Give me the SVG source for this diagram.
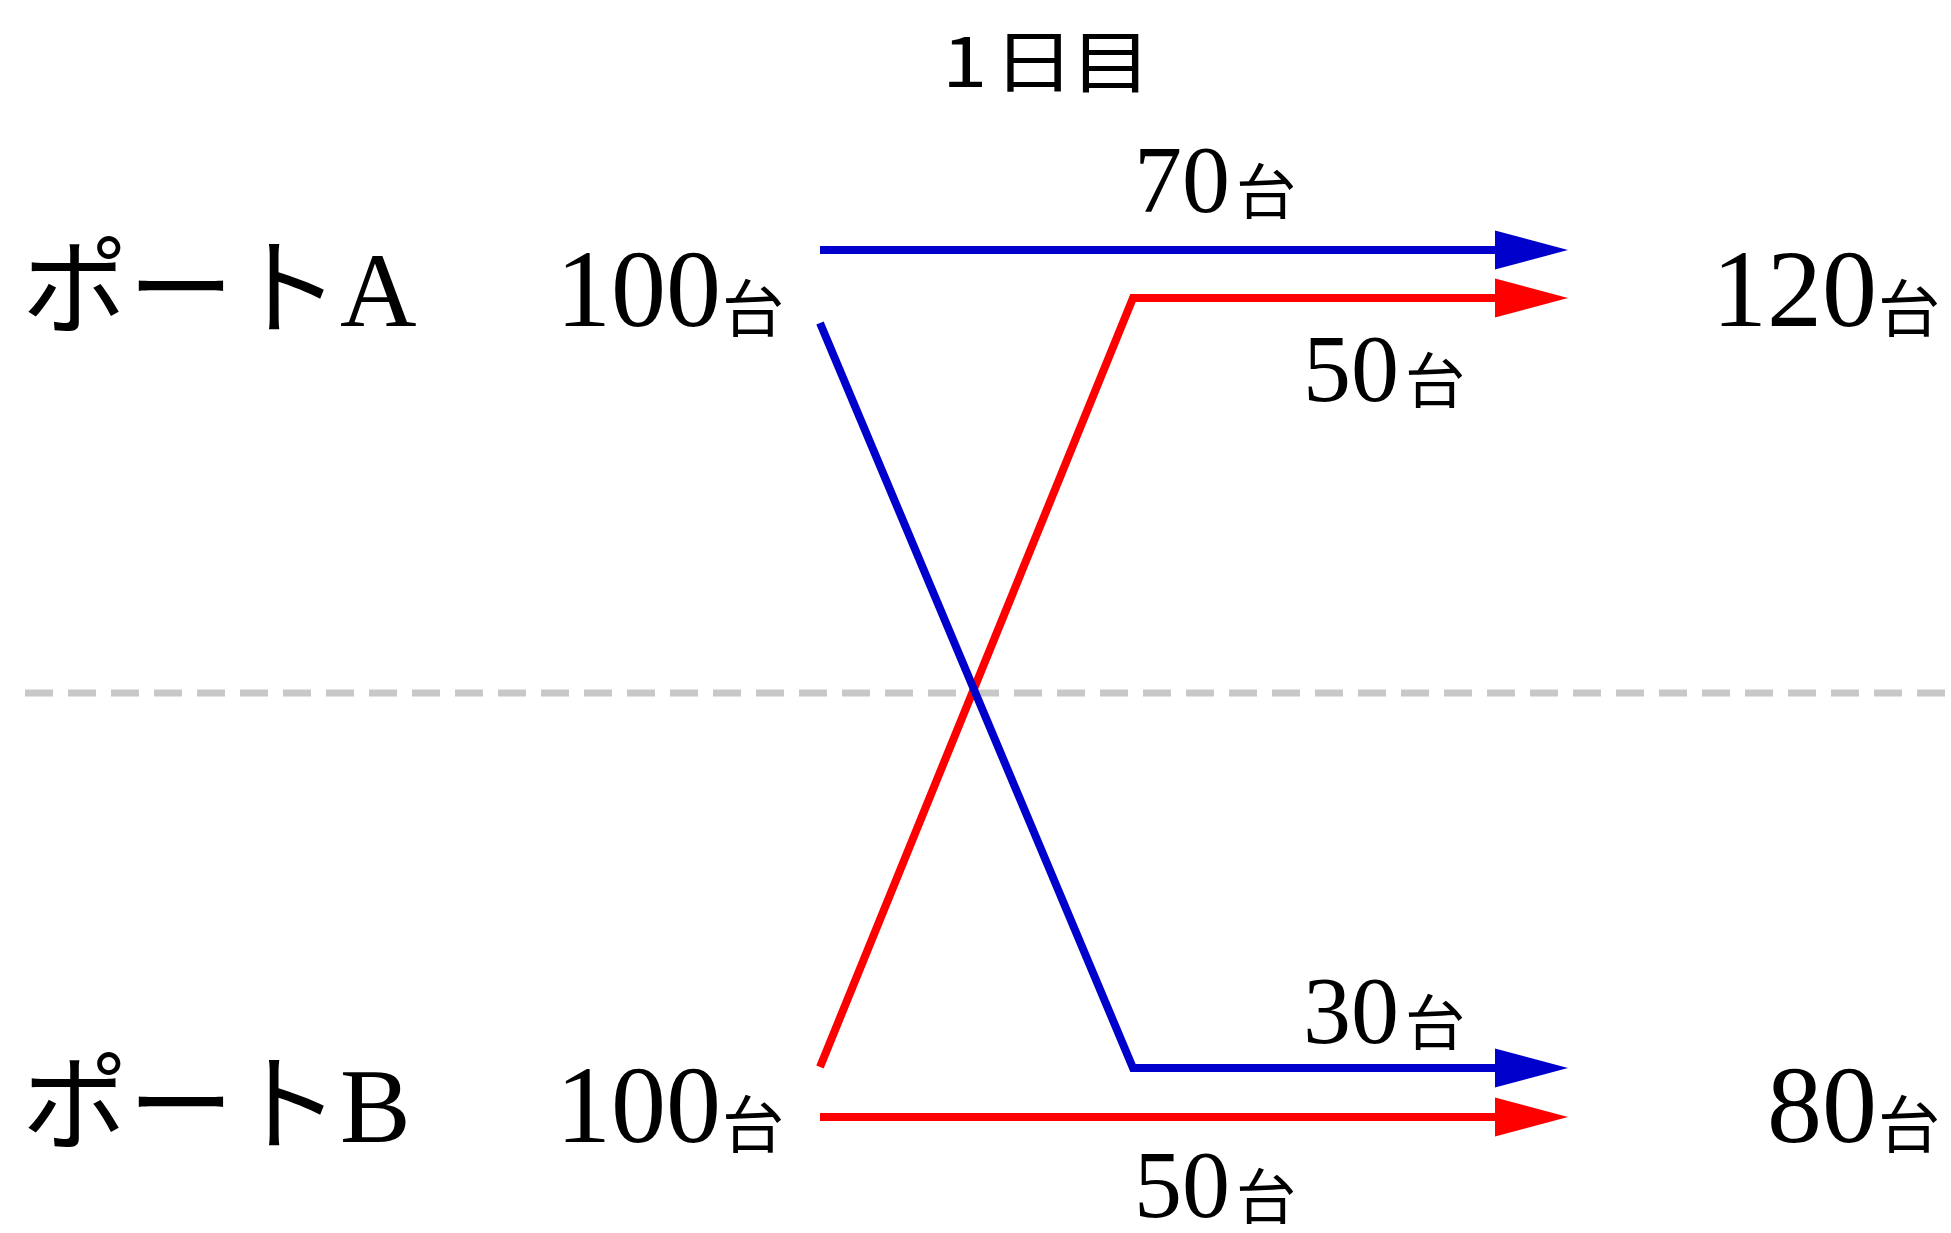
<svg xmlns="http://www.w3.org/2000/svg" width="1951" height="1233" viewBox="0 0 1951 1233">
<style>
.num{font-family:"Liberation Serif","Noto Sans CJK JP",serif;fill:#000}
.unit{font-family:"Noto Sans CJK JP",sans-serif;fill:#000}
.port{font-family:"Liberation Serif","Noto Sans CJK JP",serif;font-size:106px;fill:#000}
.title{font-family:"Noto Sans CJK JP",sans-serif;font-size:68px;fill:#000}
.flow{fill:none;stroke-width:8;stroke-linejoin:miter}
.blue{stroke:#0000cc}
.red{stroke:#ff0000}
</style>
<defs>
<marker id="ab" markerUnits="userSpaceOnUse" markerWidth="73" markerHeight="40" refX="0" refY="20" orient="auto"><path d="M0,0.5 L73,20 L0,39.5 z" fill="#0000cc"/></marker>
<marker id="ar" markerUnits="userSpaceOnUse" markerWidth="73" markerHeight="40" refX="0" refY="20" orient="auto"><path d="M0,0.5 L73,20 L0,39.5 z" fill="#ff0000"/></marker>
</defs>
<rect width="1951" height="1233" fill="#fff"/>
<line x1="25" y1="693" x2="1951" y2="693" stroke="#c8c8c8" stroke-width="7" stroke-dasharray="28 15"/>
<text class="title" transform="scale(1.2 1)" x="785 827.5 891.7" y="87">1日目</text>
<g id="portA">
<text class="port" x="22" y="326">ポートA</text>
</g>
<g id="portB">
<text class="port" x="22" y="1142">ポートB</text>
</g>
<g id="startA">
<text class="num" font-size="110" x="556" y="326">100</text><text class="unit" font-size="62" x="722" y="332">台</text>
</g>
<g id="startB">
<text class="num" font-size="110" x="556" y="1142">100</text><text class="unit" font-size="62" x="722" y="1148">台</text>
</g>
<g id="endA">
<text class="num" font-size="110" x="1712" y="326">120</text><text class="unit" font-size="62" x="1878" y="332">台</text>
</g>
<g id="endB">
<text class="num" font-size="110" x="1767" y="1142">80</text><text class="unit" font-size="62" x="1878" y="1148">台</text>
</g>
<g id="connectors">
<path class="flow blue" d="M820 250 H1495" marker-end="url(#ab)"/>
<path class="flow red" d="M820 1067 L1133 298 H1495" marker-end="url(#ar)"/>
<path class="flow blue" d="M820 323 L1133 1068 H1495" marker-end="url(#ab)"/>
<path class="flow red" d="M820 1117 H1495" marker-end="url(#ar)"/>
</g>
<g id="labels">
<text class="num" font-size="96" x="1134" y="212">70</text><text class="unit" font-size="60" x="1236" y="214">台</text>
<text class="num" font-size="96" x="1303" y="401">50</text><text class="unit" font-size="60" x="1405" y="403">台</text>
<text class="num" font-size="96" x="1303" y="1043">30</text><text class="unit" font-size="60" x="1405" y="1045">台</text>
<text class="num" font-size="96" x="1134" y="1217">50</text><text class="unit" font-size="60" x="1236" y="1219">台</text>
</g>
</svg>
